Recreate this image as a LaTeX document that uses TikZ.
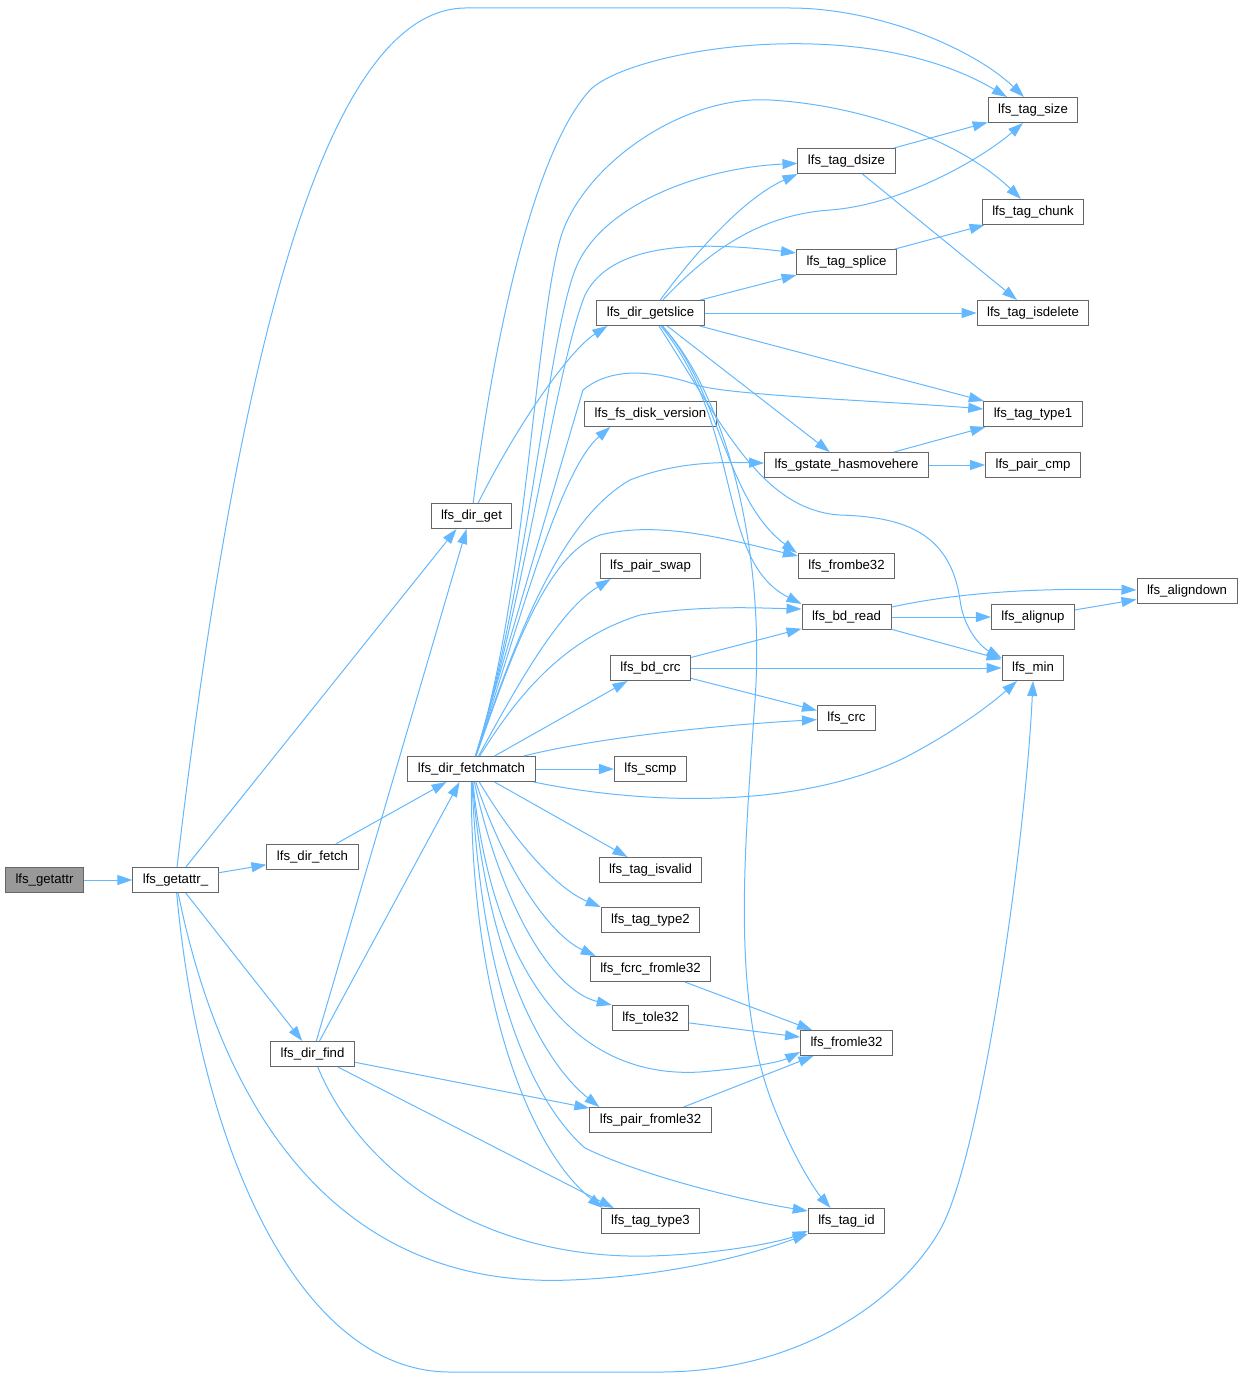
\documentclass[tikz,border=0pt]{standalone}
\usepackage{fontspec}
\setmainfont{Liberation Sans}
\usetikzlibrary{arrows.meta}

\definecolor{edgeblue}{HTML}{63B8FF}
\definecolor{boxgray}{HTML}{666666}
\definecolor{rootgray}{HTML}{999999}

\begin{document}
\begin{tikzpicture}[x=1pt,y=-1pt,
    fn/.style={draw=boxgray,line width=1pt,fill=white,minimum height=25pt,inner xsep=10pt,inner ysep=0pt,font=\fontsize{13.2}{16}\selectfont},
    root/.style={fn,fill=rootgray},
    call/.style={draw=edgeblue,line width=1pt,-{Triangle[length=15pt,width=10pt]}}]
    \useasboundingbox (0,0) rectangle (1242,1378);

    \node[root] (getattr) at (44.5,880) {lfs\_getattr};
    \node[fn] (getattrU) at (175.5,880) {lfs\_getattr\_};
    \node[fn] (dirfetch) at (312.5,857) {lfs\_dir\_fetch};
    \node[fn] (dirget) at (471.5,516) {lfs\_dir\_get};
    \node[fn] (dirfind) at (312.5,1054) {lfs\_dir\_find};
    \node[fn] (fetchmatch) at (471.5,769) {lfs\_dir\_fetchmatch};
    \node[fn] (getslice) at (650.5,313) {lfs\_dir\_getslice};
    \node[fn] (diskversion) at (650.5,414) {lfs\_fs\_disk\_version};
    \node[fn] (pairswap) at (650.5,566) {lfs\_pair\_swap};
    \node[fn] (bdcrc) at (650.5,668) {lfs\_bd\_crc};
    \node[fn] (scmp) at (650.5,769) {lfs\_scmp};
    \node[fn] (tagisvalid) at (650.5,870) {lfs\_tag\_isvalid};
    \node[fn] (tagtypeii) at (650.5,920) {lfs\_tag\_type2};
    \node[fn] (fcrc) at (650.5,969) {lfs\_fcrc\_fromle32};
    \node[fn] (tole) at (650.5,1018) {lfs\_tole32};
    \node[fn] (pairfromle) at (650.5,1120) {lfs\_pair\_fromle32};
    \node[fn] (tagtypeiii) at (650.5,1221) {lfs\_tag\_type3};
    \node[fn] (tagdsize) at (846.5,161) {lfs\_tag\_dsize};
    \node[fn] (tagsplice) at (846.5,262) {lfs\_tag\_splice};
    \node[fn] (gstate) at (846.5,465) {lfs\_gstate\_hasmovehere};
    \node[fn] (frombe) at (846.5,566) {lfs\_frombe32};
    \node[fn] (bdread) at (846.5,617) {lfs\_bd\_read};
    \node[fn] (crc) at (846.5,718) {lfs\_crc};
    \node[fn] (fromle) at (846.5,1043) {lfs\_fromle32};
    \node[fn] (tagid) at (846.5,1221) {lfs\_tag\_id};
    \node[fn] (tagsize) at (1033,110) {lfs\_tag\_size};
    \node[fn] (tagchunk) at (1033,212) {lfs\_tag\_chunk};
    \node[fn] (tagisdelete) at (1033,313) {lfs\_tag\_isdelete};
    \node[fn] (tagtypei) at (1033,414) {lfs\_tag\_type1};
    \node[fn] (paircmp) at (1033,465) {lfs\_pair\_cmp};
    \node[fn] (alignup) at (1033,617) {lfs\_alignup};
    \node[fn] (lfsmin) at (1033,668) {lfs\_min};
    \node[fn] (aligndown) at (1187,591) {lfs\_aligndown};

    \draw[call] (getattr) -- (getattrU);
    \draw[call] (getattrU) -- (dirfetch);
    \draw[call] (getattrU) -- (dirfind);
    \draw[call] (getattrU) -- ([xshift=-15pt]dirget.south);
    \draw[call] (getattrU) .. controls (240,330) and (330,10) .. (465,8) -- (790,8) .. controls (880,8) and (975,50) .. ([xshift=-9pt]tagsize.north);
    \draw[call] (getattrU) .. controls (200,1150) and (300,1372) .. (450,1372) -- (660,1372) .. controls (800,1372) and (900,1300) .. (940,1230) .. controls (980,1160) and (1025,850) .. (lfsmin.south);
    \draw[call] (getattrU) .. controls (220,1100) and (330,1290) .. (570,1280) .. controls (670,1276) and (750,1255) .. (tagid.south west);

    \draw[call] (dirfetch) -- ([xshift=-25pt]fetchmatch.south);
    \draw[call] (dirfind) -- ([xshift=-12pt]fetchmatch.south);
    \draw[call] (dirfind) -- ([xshift=-5pt]dirget.south);
    \draw[call] (dirfind) -- (pairfromle);
    \draw[call] (dirfind) -- ([xshift=13pt]tagtypeiii.north west);
    \draw[call] (dirfind) .. controls (360,1170) and (480,1260) .. (650,1256) .. controls (720,1254) and (780,1242) .. ([yshift=3pt]tagid.south west);

    \draw[call] (dirget) .. controls (520,420) and (570,350) .. ([xshift=11pt]getslice.south west);
    \draw[call] (dirget) .. controls (495,330) and (535,150) .. (590,90) .. controls (630,50) and (860,10) .. ([xshift=-26pt]tagsize.north);

    \draw[call] (fetchmatch) -- (scmp);
    \draw[call] (fetchmatch) -- (bdcrc);
    \draw[call] (fetchmatch) -- (tagisvalid);
    \draw[call] (fetchmatch) .. controls (600,737) and (720,725) .. (crc);
    \draw[call] (fetchmatch) .. controls (620,800) and (780,815) .. (900,760) .. controls (950,735) and (990,705) .. ([xshift=-16pt]lfsmin.south);
    \draw[call] (fetchmatch) .. controls (525,600) and (535,330) .. (560,240) .. controls (580,168) and (680,95) .. (770,100) .. controls (860,105) and (960,140) .. ([xshift=-12pt]tagchunk.north);
    \draw[call] (fetchmatch) .. controls (525,600) and (548,340) .. (575,270) .. controls (600,205) and (700,168) .. (tagdsize);
    \draw[call] (fetchmatch) .. controls (525,600) and (555,370) .. (585,295) .. controls (610,245) and (690,240) .. ([yshift=-4pt]tagsplice.north west);
    \draw[call] (fetchmatch) .. controls (510,640) and (565,450) .. (583,390) .. controls (605,372) and (640,365) .. (700,386) .. controls (740,396) and (900,402) .. ([yshift=5pt]tagtypei.west);
    \draw[call] (fetchmatch) .. controls (520,620) and (560,470) .. ([xshift=26pt]diskversion.south west);
    \draw[call] (fetchmatch) .. controls (515,640) and (560,520) .. (630,480) .. controls (675,462) and (720,462) .. (gstate);
    \draw[call] (fetchmatch) .. controls (510,660) and (545,555) .. (600,535) .. controls (660,520) and (730,540) .. ([yshift=-3pt]frombe.north west);
    \draw[call] (fetchmatch) .. controls (520,680) and (560,610) .. ([xshift=11pt]pairswap.south west);
    \draw[call] (fetchmatch) .. controls (515,700) and (560,640) .. (640,615) .. controls (700,605) and (760,608) .. ([yshift=-5pt]bdread.north west);
    \draw[call] (fetchmatch) .. controls (520,850) and (560,890) .. (tagtypeii.north west);
    \draw[call] (fetchmatch) .. controls (505,870) and (550,935) .. ([xshift=6pt]fcrc.north west);
    \draw[call] (fetchmatch) .. controls (500,900) and (550,990) .. (tole.north west);
    \draw[call] (fetchmatch) .. controls (490,950) and (560,1080) .. (700,1072) .. controls (750,1068) and (780,1062) .. ([yshift=4pt]fromle.south west);
    \draw[call] (fetchmatch) .. controls (485,950) and (540,1060) .. ([xshift=10pt]pairfromle.north west);
    \draw[call] (fetchmatch) .. controls (480,980) and (530,1100) .. (585,1148) .. controls (640,1175) and (740,1200) .. ([yshift=-3pt]tagid.north west);
    \draw[call] (fetchmatch) .. controls (470,1000) and (530,1150) .. ([xshift=2pt]tagtypeiii.north west);

    \draw[call] (getslice) -- (tagisdelete);
    \draw[call] (getslice) -- (tagsplice);
    \draw[call] (getslice) -- (tagtypei);
    \draw[call] (getslice) -- (gstate);
    \draw[call] (getslice) .. controls (690,260) and (740,200) .. (tagdsize.south west);
    \draw[call] (getslice) .. controls (710,250) and (760,215) .. (830,210) .. controls (900,205) and (980,160) .. ([xshift=-10pt]tagsize.south);
    \draw[call] (getslice) .. controls (720,390) and (725,500) .. ([xshift=-1pt]frombe.north west);
    \draw[call] (getslice) .. controls (745,430) and (715,560) .. (bdread.north west);
    \draw[call] (getslice) .. controls (720,420) and (760,510) .. (840,515) .. controls (900,517) and (950,530) .. (960,600) .. controls (963,625) and (978,645) .. ([yshift=-3pt]lfsmin.north west);
    \draw[call] (getslice) .. controls (730,400) and (765,560) .. (755,700) .. controls (745,850) and (730,1000) .. (775,1110) .. controls (795,1160) and (815,1190) .. ([xshift=-16pt]tagid.north);

    \draw[call] (tagdsize) -- (tagsize);
    \draw[call] (tagdsize) -- (tagisdelete);
    \draw[call] (tagsplice) -- (tagchunk);
    \draw[call] (gstate) -- (tagtypei);
    \draw[call] (gstate) -- (paircmp);
    \draw[call] (bdread) .. controls (960,592) and (1040,588) .. (aligndown);
    \draw[call] (bdread) -- (alignup);
    \draw[call] (bdread) -- (lfsmin);
    \draw[call] (alignup) -- (aligndown);
    \draw[call] (bdcrc) -- (bdread);
    \draw[call] (bdcrc) -- (lfsmin);
    \draw[call] (bdcrc) -- (crc);
    \draw[call] (fcrc) -- (fromle);
    \draw[call] (tole) -- (fromle);
    \draw[call] (pairfromle) -- (fromle);

\end{tikzpicture}
\end{document}
